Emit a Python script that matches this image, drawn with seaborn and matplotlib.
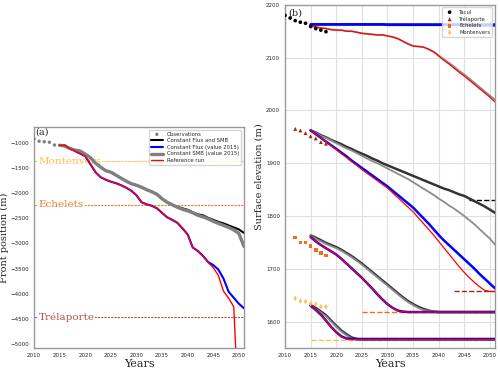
import matplotlib
matplotlib.use("Agg")
import matplotlib.pyplot as plt
import seaborn as sns
import numpy as np

# years of the model runs
years = list(range(2015, 2052))

# ---------------- panel (a): front position ----------------
obs_years_a = [2010, 2011, 2012, 2013, 2014]
obs_front = [-920, -965, -975, -985, -1040]

ref_years_a = list(range(2015, 2050)) + [2049.4]
ref_front = [-1045, -1045, -1110, -1160, -1210, -1260, -1420, -1580, -1680, -1730,
             -1770, -1800, -1840, -1890, -1950, -2040, -2180, -2220, -2250, -2300,
             -2390, -2480, -2530, -2590, -2700, -2820, -3080, -3150, -3250, -3380,
             -3480, -3640, -3950, -4090, -4260, -5150]
flux_front = [-1045, -1045, -1110, -1160, -1210, -1260, -1420, -1580, -1680, -1730,
              -1770, -1800, -1840, -1890, -1950, -2040, -2180, -2220, -2250, -2300,
              -2390, -2480, -2530, -2590, -2700, -2820, -3080, -3150, -3250, -3370,
              -3430, -3520, -3700, -3960, -4080, -4200, -4290]
flux_smb_front = [-1045, -1060, -1110, -1140, -1160, -1220, -1290, -1400, -1480, -1550,
                  -1580, -1640, -1700, -1760, -1810, -1840, -1880, -1930, -1970, -2020,
                  -2110, -2180, -2230, -2270, -2300, -2330, -2380, -2420, -2440, -2490,
                  -2530, -2570, -2600, -2640, -2680, -2720, -2790]
smb_front = [-1045, -1060, -1110, -1140, -1160, -1220, -1290, -1400, -1480, -1550,
             -1580, -1640, -1700, -1760, -1810, -1840, -1880, -1930, -1970, -2020,
             -2110, -2180, -2230, -2280, -2320, -2350, -2390, -2440, -2470, -2510,
             -2560, -2600, -2640, -2680, -2730, -2800, -3060]

sites_a = ["Montenvers", "Echelets", "Trélaporte"]
sites_a_front = [-1360, -2230, -4460]
sites_a_colors = ["#ffbf4f", "#ee7a30", "#b5524a"]

# ---------------- panel (b): surface elevation ----------------
obs_years_tacul = list(range(2010, 2019))
obs_tacul = [2180, 2175, 2170, 2167, 2165, 2159, 2155, 2152, 2149]
obs_years_b = list(range(2012, 2019))
obs_trelaporte = [1965, 1962, 1957, 1951, 1947, 1940, 1937]
obs_echelets = [1759, 1750, 1750, 1743, 1736, 1730, 1725]
obs_montenvers = [1644, 1639, 1638, 1634, 1633, 1628, 1628]

tacul_ref = [2160, 2158, 2156, 2155, 2153, 2152, 2152, 2150, 2150, 2148,
             2146, 2145, 2144, 2143, 2143, 2141, 2139, 2136, 2131, 2126,
             2122, 2121, 2120, 2116, 2111, 2103, 2095, 2088, 2080, 2072,
             2065, 2057, 2049, 2041, 2033, 2025, 2016]
tacul_smb = [2160, 2158, 2156, 2155, 2153, 2152, 2152, 2150, 2150, 2148,
             2146, 2145, 2144, 2143, 2143, 2141, 2139, 2136, 2131, 2126,
             2122, 2121, 2120, 2116, 2111, 2104, 2097, 2090, 2083, 2075,
             2068, 2060, 2052, 2044, 2036, 2028, 2020]
tacul_flux = [2163, 2163, 2163, 2163, 2163, 2163, 2163, 2163, 2163, 2163,
              2163, 2163, 2163, 2163, 2163, 2162, 2162, 2162, 2162, 2162,
              2162, 2162, 2162, 2162, 2162, 2162, 2162, 2162, 2162, 2162,
              2162, 2161, 2161, 2161, 2161, 2161, 2161]
tacul_flux_smb = [2163] * 37

trel_ref = [1962, 1955, 1948, 1941, 1933, 1926, 1918, 1911, 1903, 1896,
            1888, 1881, 1874, 1867, 1860, 1853, 1844, 1835, 1826, 1817,
            1808, 1797, 1786, 1775, 1764, 1752, 1740, 1728, 1716, 1704,
            1693, 1683, 1674, 1666, 1659, 1657, 1657]
trel_flux = [1962, 1955, 1948, 1941, 1934, 1927, 1920, 1913, 1905, 1898,
             1891, 1884, 1877, 1870, 1863, 1856, 1848, 1840, 1832, 1824,
             1816, 1806, 1796, 1786, 1775, 1764, 1754, 1745, 1736, 1727,
             1718, 1709, 1700, 1690, 1681, 1672, 1663]
trel_flux_smb = [1962, 1958, 1953, 1949, 1944, 1940, 1936, 1931, 1927, 1922,
                 1918, 1914, 1909, 1905, 1900, 1896, 1892, 1888, 1884, 1880,
                 1876, 1872, 1868, 1864, 1860, 1856, 1852, 1849, 1845, 1841,
                 1838, 1833, 1828, 1823, 1818, 1812, 1806]
trel_smb = [1962, 1957, 1952, 1948, 1943, 1938, 1933, 1928, 1924, 1919,
            1914, 1909, 1904, 1900, 1895, 1890, 1885, 1880, 1875, 1870,
            1864, 1858, 1852, 1846, 1840, 1833, 1827, 1820, 1814, 1807,
            1800, 1792, 1784, 1775, 1766, 1757, 1746]

ech_ref = [1760, 1752, 1745, 1739, 1733, 1727, 1719, 1710, 1701, 1692,
           1683, 1673, 1663, 1652, 1642, 1633, 1626, 1621, 1619] + [1618] * 18
ech_smb = [1762, 1757, 1752, 1747, 1743, 1739, 1734, 1728, 1722, 1715,
           1708, 1700, 1692, 1684, 1676, 1668, 1660, 1652, 1644, 1637,
           1631, 1626, 1622, 1620, 1619] + [1618] * 12
ech_flux_smb = [1763, 1759, 1754, 1749, 1745, 1741, 1736, 1730, 1724, 1717,
                1710, 1702, 1694, 1686, 1678, 1670, 1662, 1654, 1646, 1639,
                1633, 1628, 1624, 1621, 1619] + [1618] * 12

mont_ref = [1630, 1622, 1613, 1602, 1590, 1580, 1571, 1567] + [1566] * 29
mont_flux = [1630, 1622, 1613, 1602, 1590, 1580, 1572, 1568] + [1567] * 29
mont_smb = [1630, 1624, 1617, 1610, 1600, 1590, 1581, 1574, 1568] + [1566] * 28
mont_flux_smb = [1631, 1626, 1619, 1612, 1602, 1592, 1583, 1576, 1570, 1567] + [1566] * 27

# threshold elevation of each site and year it starts to be drawn
thr_levels = [1830, 1657, 1618, 1566]
thr_start = [2046, 2043, 2025, 2015]
site_colors = ["black", "#9b2a0a", "#f36b1c", "#ffbf4f"]


sns.set_style("whitegrid")
plt.rcParams["font.family"] = ["DejaVu Sans"]

fig = plt.figure(figsize=(5, 3.69), dpi=100)
ax_a = fig.add_axes([0.068, 0.057, 0.42, 0.599])
ax_b = fig.add_axes([0.57, 0.057, 0.42, 0.93])

# ----- panel (a)
ax_a.grid(False)
for name, y, c in zip(sites_a, sites_a_front, sites_a_colors):
    ax_a.axhline(y, color=c, lw=0.8, ls=(0, (2, 1)), zorder=1)
    ax_a.text(2010.9, y, name, color=c, fontsize=7.5, family="DejaVu Serif",
              va="center", ha="left", zorder=2,
              bbox=dict(facecolor="white", edgecolor="none", pad=0.5))

sns.scatterplot(x=obs_years_a, y=obs_front, ax=ax_a, color="gray", s=6,
                edgecolor="none", label="Observations", zorder=5)
sns.lineplot(x=years, y=flux_smb_front, ax=ax_a, color="black", lw=1.5,
             estimator=None, label="Constant Flux and SMB", zorder=3)
sns.lineplot(x=years, y=flux_front, ax=ax_a, color="blue", lw=1.5,
             estimator=None, label="Constant Flux (value 2015)", zorder=3)
sns.lineplot(x=years, y=smb_front, ax=ax_a, color="gray", lw=2.4,
             estimator=None, label="Constant SMB (value 2015)", zorder=4)
sns.lineplot(x=ref_years_a, y=ref_front, ax=ax_a, color="red", lw=1,
             estimator=None, label="Reference run", zorder=4)

ax_a.set_xlim(2010, 2051)
ax_a.set_ylim(-5080, -680)
ax_a.set_yticks(np.arange(-5000, -999, 500))
ax_a.set_xticks(np.arange(2010, 2051, 5))
ax_a.set_xlabel("Years", fontsize=8, family="DejaVu Serif", labelpad=1)
ax_a.set_ylabel("Front position (m)", fontsize=7, family="DejaVu Serif")
ax_a.yaxis.set_label_coords(-0.118, 0.5)
ax_a.text(2010.3, -790, "(a)", fontsize=7, family="DejaVu Serif", va="center")
ax_a.legend(loc="upper right", fontsize=3.8, frameon=True, handlelength=2.2,
            borderpad=0.4, labelspacing=0.3, markerscale=1)

# ----- panel (b)
for lvl, x0, c in zip(thr_levels, thr_start, site_colors):
    ax_b.plot([x0, 2051], [lvl, lvl], color=c, lw=1, ls="--", zorder=2)

series_b = [
    (tacul_flux_smb, tacul_flux, tacul_smb, tacul_ref),
    (trel_flux_smb, trel_flux, trel_smb, trel_ref),
    (ech_flux_smb, ech_ref, ech_smb, ech_ref),
    (mont_flux_smb, mont_flux, mont_smb, mont_ref),
]
for fs, fl, sm, rf in series_b:
    sns.lineplot(x=years, y=fs, ax=ax_b, color="#333333", lw=1.8, estimator=None, zorder=3)
    sns.lineplot(x=years, y=sm, ax=ax_b, color="#8c8c8c", lw=1.3, estimator=None, zorder=3.5)
    sns.lineplot(x=years, y=fl, ax=ax_b, color="blue", lw=1.8, estimator=None, zorder=4)
    sns.lineplot(x=years, y=rf, ax=ax_b, color="red", lw=0.9, estimator=None, zorder=5)

sns.scatterplot(x=obs_years_tacul, y=obs_tacul, ax=ax_b, color="black", marker="o",
                s=7, edgecolor="none", label="Tacul", zorder=6)
sns.scatterplot(x=obs_years_b, y=obs_trelaporte, ax=ax_b, color="#9b2a0a", marker="^",
                s=8, edgecolor="none", label="Trélaporte", zorder=6)
sns.scatterplot(x=obs_years_b, y=obs_echelets, ax=ax_b, color="#f36b1c", marker="s",
                s=7, edgecolor="none", label="Echelets", zorder=6)
sns.scatterplot(x=obs_years_b, y=obs_montenvers, ax=ax_b, color="#ffbf4f", marker="d",
                s=8, edgecolor="none", label="Montenvers", zorder=6)

ax_b.set_xlim(2010, 2051)
ax_b.set_ylim(1550, 2200)
ax_b.set_yticks(np.arange(1600, 2201, 100))
ax_b.set_xticks(np.arange(2010, 2051, 5))
ax_b.set_xlabel("Years", fontsize=8, family="DejaVu Serif", labelpad=1)
ax_b.set_ylabel("Surface elevation (m)", fontsize=7, family="DejaVu Serif")
ax_b.yaxis.set_label_coords(-0.102, 0.5)
ax_b.text(2010.6, 2184, "(b)", fontsize=7, family="DejaVu Serif", va="center")
ax_b.legend(loc="upper right", fontsize=3.8, frameon=True, borderpad=0.4,
            labelspacing=0.3, markerscale=1)

for ax in (ax_a, ax_b):
    ax.tick_params(labelsize=4, length=2, pad=1.5)
    for sp in ax.spines.values():
        sp.set_color("0.6")
        sp.set_linewidth(1)
ax_b.grid(True, color="0.88", lw=0.8)

fig.savefig("out.png", dpi=100)
